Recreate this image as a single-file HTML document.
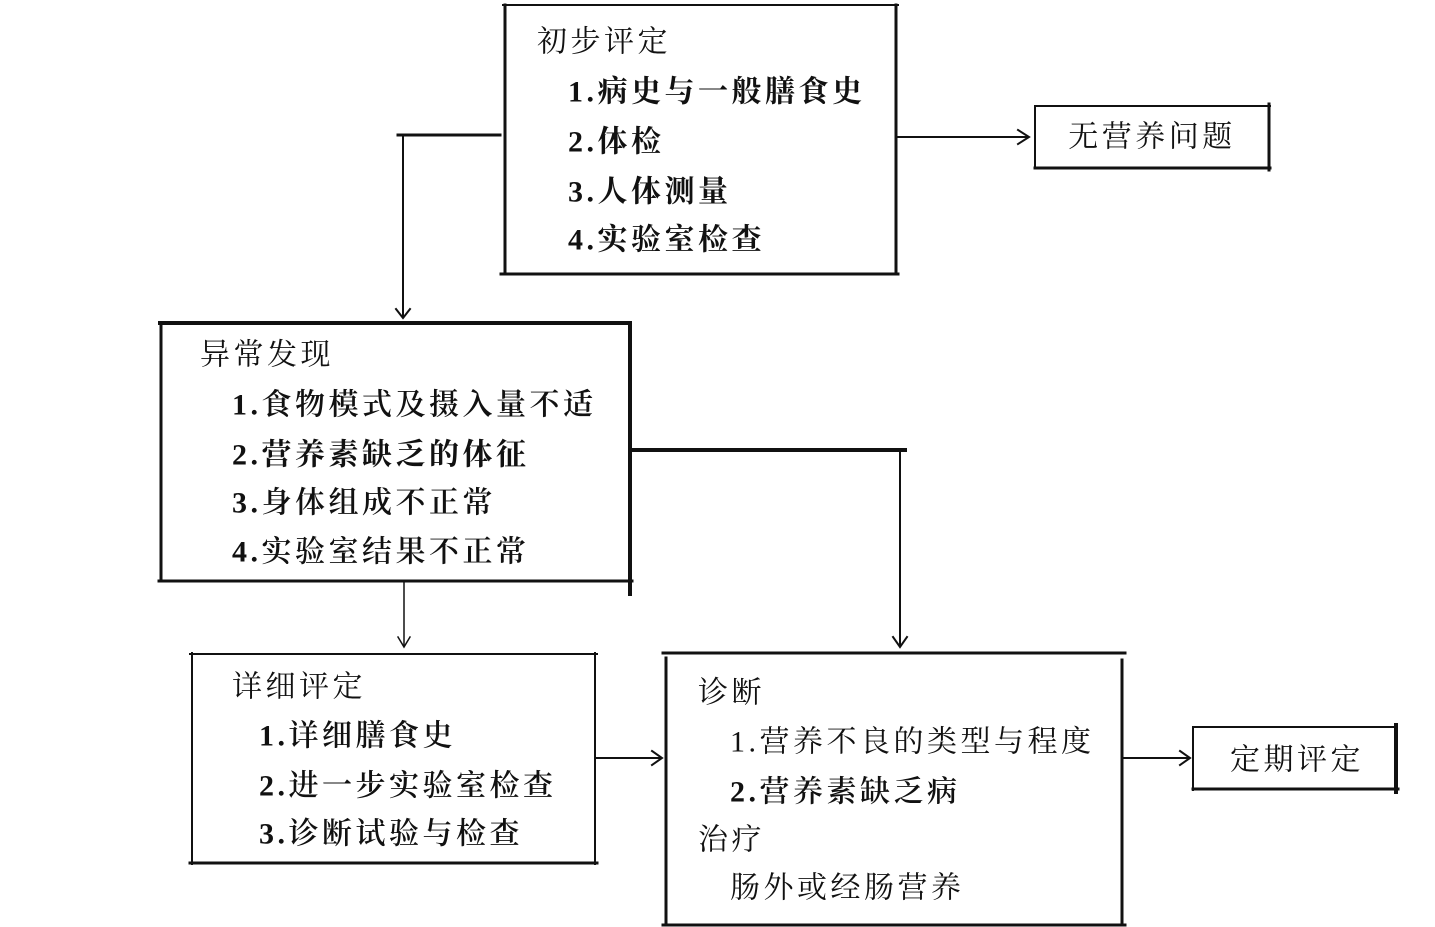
<!DOCTYPE html>
<html><head><meta charset="utf-8"><style>
html,body{margin:0;padding:0;background:#fff;}
svg{display:block;}
text{font-family:"Liberation Serif","Noto Serif CJK SC","Noto Sans CJK SC",serif;font-size:30px;letter-spacing:3.5px;fill:#111;dominant-baseline:central;}
.b{font-weight:700;}
.m{font-weight:600;}
</style></head><body>
<svg width="1435" height="927" viewBox="0 0 1435 927" xmlns="http://www.w3.org/2000/svg">
<g stroke="#111" fill="none" stroke-linecap="square">
<!-- Box1 -->
<line x1="503" y1="5" x2="898" y2="5" stroke-width="2"/>
<line x1="505" y1="5" x2="505" y2="272" stroke-width="3"/>
<line x1="896" y1="5" x2="896" y2="272" stroke-width="3"/>
<line x1="501" y1="274" x2="898" y2="274" stroke-width="3"/>
<!-- connector box1 -> box2 -->
<line x1="398" y1="135" x2="500" y2="135" stroke-width="3"/>
<line x1="403" y1="135" x2="403" y2="317" stroke-width="2"/>
<polyline points="396,309 403,318 410,309" stroke-width="2"/>
<!-- box1 -> 无营养问题 -->
<line x1="898" y1="137" x2="1027" y2="137" stroke-width="2"/>
<polyline points="1018,130 1029,137 1018,144" stroke-width="2"/>
<!-- 无营养问题 box -->
<line x1="1035" y1="106" x2="1035" y2="168" stroke-width="2"/>
<line x1="1035" y1="106" x2="1270" y2="106" stroke-width="2"/>
<line x1="1269" y1="104" x2="1269" y2="170" stroke-width="3"/>
<line x1="1035" y1="168" x2="1270" y2="168" stroke-width="3"/>
<!-- Box2 -->
<line x1="160" y1="323" x2="630" y2="323" stroke-width="4"/>
<line x1="161" y1="323" x2="161" y2="581" stroke-width="3"/>
<line x1="630" y1="323" x2="630" y2="594" stroke-width="4"/>
<line x1="159" y1="581" x2="632" y2="581" stroke-width="3"/>
<!-- box2 -> diag -->
<line x1="632" y1="450" x2="905" y2="450" stroke-width="4"/>
<line x1="900" y1="450" x2="900" y2="645" stroke-width="2"/>
<polyline points="893,637 900,647 907,637" stroke-width="2"/>
<!-- box2 -> box3 -->
<line x1="404" y1="583" x2="404" y2="645" stroke-width="1.5"/>
<polyline points="398,637 404,647 410,637" stroke-width="1.5"/>
<!-- Box3 -->
<line x1="190" y1="654" x2="597" y2="654" stroke-width="2"/>
<line x1="192" y1="653" x2="192" y2="864" stroke-width="2"/>
<line x1="595" y1="653" x2="595" y2="864" stroke-width="2"/>
<line x1="190" y1="863" x2="597" y2="863" stroke-width="3"/>
<!-- box3 -> box4 -->
<line x1="597" y1="758" x2="660" y2="758" stroke-width="2"/>
<polyline points="652,751 662,758 652,765" stroke-width="2"/>
<!-- Box4 -->
<line x1="663" y1="653" x2="1125" y2="653" stroke-width="3"/>
<line x1="666" y1="658" x2="666" y2="925" stroke-width="3"/>
<line x1="1122" y1="660" x2="1122" y2="925" stroke-width="3"/>
<line x1="663" y1="925" x2="1125" y2="925" stroke-width="3"/>
<!-- box4 -> box5 -->
<line x1="1124" y1="758" x2="1188" y2="758" stroke-width="2"/>
<polyline points="1180,751 1190,758 1180,765" stroke-width="2"/>
<!-- Box5 -->
<line x1="1193" y1="727" x2="1193" y2="790" stroke-width="2"/>
<line x1="1193" y1="727" x2="1397" y2="727" stroke-width="2"/>
<line x1="1396" y1="725" x2="1396" y2="792" stroke-width="4"/>
<line x1="1193" y1="789" x2="1398" y2="789" stroke-width="3"/>
</g>

<!-- Box1 text -->
<text x="537" y="42">初步评定</text>
<text class="b" x="568" y="92">1.病史与一般膳食史</text>
<text class="b" x="568" y="142">2.体检</text>
<text class="b" x="568" y="192">3.人体测量</text>
<text class="b" x="568" y="240">4.实验室检查</text>

<text x="1152" y="137" text-anchor="middle">无营养问题</text>

<!-- Box2 text -->
<text x="200" y="355">异常发现</text>
<text class="m" x="232" y="405">1.食物模式及摄入量不适</text>
<text class="b" x="232" y="455">2.营养素缺乏的体征</text>
<text class="m" x="232" y="503">3.身体组成不正常</text>
<text class="m" x="232" y="552">4.实验室结果不正常</text>

<!-- Box3 text -->
<text x="232" y="687">详细评定</text>
<text class="m" x="259" y="736">1.详细膳食史</text>
<text class="m" x="259" y="786">2.进一步实验室检查</text>
<text class="m" x="259" y="834">3.诊断试验与检查</text>

<!-- Box4 text -->
<text x="698" y="693">诊断</text>
<text x="730" y="742">1.营养不良的类型与程度</text>
<text class="m" x="730" y="792">2.营养素缺乏病</text>
<text x="698" y="840">治疗</text>
<text x="730" y="888">肠外或经肠营养</text>

<text x="1297" y="760" text-anchor="middle">定期评定</text>
</svg>
</body></html>
